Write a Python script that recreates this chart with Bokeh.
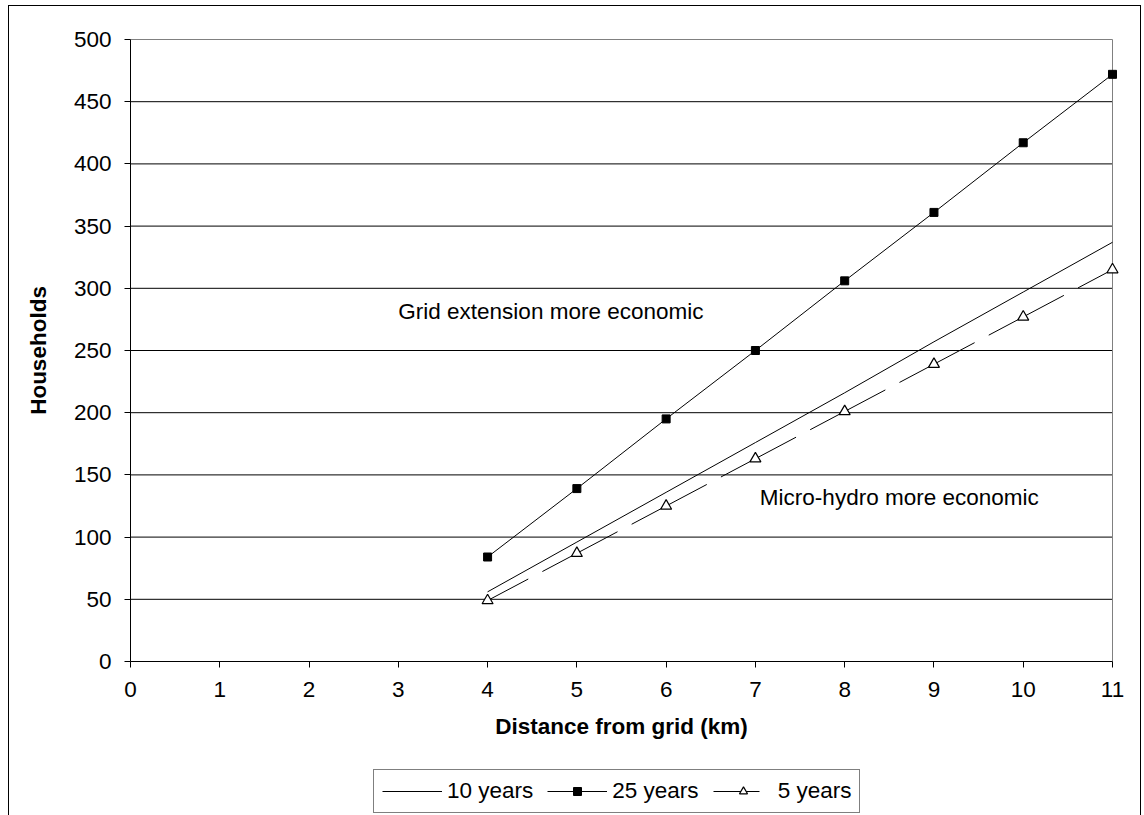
from bokeh.plotting import figure
from bokeh.models import Range1d, FixedTicker, Legend, LegendItem, Label
from bokeh.embed import file_html
from bokeh.resources import INLINE

# ---- data ----
distance_km = [4, 5, 6, 7, 8, 9, 10, 11]
households_10yr = [56, 96, 136, 176, 216, 257, 297, 337]
households_25yr = [84, 139, 195, 250, 306, 361, 417, 472]
households_5yr = [49, 87, 125, 163, 201, 239, 277, 315]
x_ticks = [0, 1, 2, 3, 4, 5, 6, 7, 8, 9, 10, 11]
y_ticks = [0, 50, 100, 150, 200, 250, 300, 350, 400, 450, 500]
series_labels = ["10 years", "25 years", "5 years"]
x_title = "Distance from grid (km)"
y_title = "Households"
note_grid = "Grid extension more economic"
note_micro = "Micro-hydro more economic"
note_grid_pos = (3.0, 281)
note_micro_pos = (7.05, 132)

FONT = "Liberation Sans"
FS = "22.5px"
X_MIN, X_MAX = x_ticks[0], x_ticks[-1]
Y_MIN, Y_MAX = y_ticks[0], y_ticks[-1]

# layout (pixels, inside the bordered figure); the frame fills the whole figure
FIG_W, FIG_H = 1133, 815
TOP_PX = 33           # y=500 position from figure top
AXIS_PX_Y = 622       # pixel height of 0..500
LEFT_PX = 121         # x=0 position from figure left
AXIS_PX_X = 982       # pixel width of 0..11
uy = (Y_MAX - Y_MIN) / AXIS_PX_Y
ux = (X_MAX - X_MIN) / AXIS_PX_X
y_end = Y_MAX + TOP_PX * uy
y_start = Y_MIN - (FIG_H - TOP_PX - AXIS_PX_Y) * uy
x_start = X_MIN - LEFT_PX * ux
x_end = X_MAX + (FIG_W - LEFT_PX - AXIS_PX_X) * ux

p = figure(width=FIG_W, height=FIG_H, output_backend="svg", toolbar_location=None,
           x_range=Range1d(x_start, x_end), y_range=Range1d(y_start, y_end),
           min_border_left=0, min_border_right=0, min_border_top=0,
           min_border_bottom=0)
p.styles = {"border": "1px solid black", "margin-left": "8px", "margin-top": "5px"}
p.background_fill_color = "white"
p.border_fill_color = "white"
p.outline_line_color = None
p.xgrid.visible = False
p.ygrid.visible = False

# horizontal gridlines (black) between 0 and 11
grid_y = y_ticks[1:-1]
p.segment(x0=[X_MIN] * len(grid_y), y0=grid_y, x1=[X_MAX] * len(grid_y), y1=grid_y,
          line_color="black", line_width=1)

# plot-area border (top and right) in gray
p.segment(x0=[X_MIN, X_MAX], y0=[Y_MAX, Y_MIN], x1=[X_MAX, X_MAX], y1=[Y_MAX, Y_MAX],
          line_color="#808080", line_width=1)

for ax in (p.xaxis[0], p.yaxis[0]):
    ax.axis_line_color = "black"
    ax.major_tick_line_color = "black"
    ax.major_tick_out = 6
    ax.major_tick_in = 0
    ax.minor_tick_line_color = None
    ax.major_label_text_font = FONT
    ax.major_label_text_font_size = FS
    ax.major_label_text_color = "black"
    ax.axis_label_text_font = FONT
    ax.axis_label_text_font_size = FS
    ax.axis_label_text_font_style = "bold"
    ax.axis_label_text_color = "black"

p.xaxis.fixed_location = Y_MIN
p.yaxis.fixed_location = X_MIN
p.xaxis.bounds = (X_MIN, X_MAX)
p.yaxis.bounds = (Y_MIN, Y_MAX)
p.xaxis.ticker = FixedTicker(ticks=x_ticks)
p.yaxis.ticker = FixedTicker(ticks=y_ticks)
p.xaxis.major_label_overrides = {t: str(t) for t in x_ticks}
p.yaxis.major_label_overrides = {t: str(t) for t in y_ticks}
p.xaxis.major_label_standoff = 14
p.yaxis.major_label_standoff = 13
p.xaxis.axis_label = x_title
p.yaxis.axis_label = y_title
p.xaxis.axis_label_standoff = 14
p.yaxis.axis_label_standoff = 20

# 10 years: plain solid line
r10 = p.line(distance_km, households_10yr, line_color="black", line_width=1)

# 25 years: line with filled squares
r25l = p.line(distance_km, households_25yr, line_color="black", line_width=1)
r25m = p.scatter(distance_km, households_25yr, marker="square", size=8,
                 fill_color="black", line_color="black")

# 5 years: long-dash segments (pattern restarts at each point) with open triangles
seg_x = [[distance_km[i], distance_km[i + 1]] for i in range(len(distance_km) - 1)]
seg_y = [[households_5yr[i], households_5yr[i + 1]] for i in range(len(households_5yr) - 1)]
r5l = p.multi_line(seg_x, seg_y, line_color="black", line_width=1, line_dash="46 16")
r5m = p.scatter(distance_km, households_5yr, marker="triangle", size=11,
                fill_color="white", line_color="black", line_width=1.2)

# annotations
for txt, pos in ((note_grid, note_grid_pos), (note_micro, note_micro_pos)):
    p.add_layout(Label(x=pos[0], y=pos[1], text=txt, text_font=FONT,
                       text_font_size=FS, text_baseline="middle",
                       text_align="left", text_color="black"))

legend = Legend(items=[
    LegendItem(label=series_labels[0], renderers=[r10]),
    LegendItem(label=series_labels[1], renderers=[r25l, r25m]),
    LegendItem(label=series_labels[2], renderers=[r5l, r5m]),
], orientation="horizontal", location=(364, 8))
legend.label_text_font = FONT
legend.label_text_font_size = FS
legend.label_text_color = "black"
legend.border_line_color = "black"
legend.border_line_width = 1
legend.background_fill_alpha = 1
legend.glyph_width = 60
legend.glyph_height = 20
legend.label_standoff = 5
legend.spacing = 14
legend.padding = 8
legend.margin = 0
p.add_layout(legend, "center")

open("out.html", "w").write(file_html(p, INLINE))
